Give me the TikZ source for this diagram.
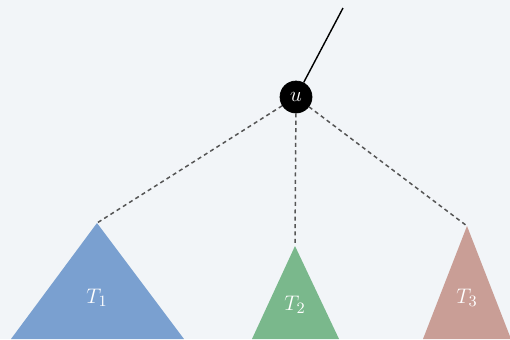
\documentclass[tikz,border=0pt]{standalone}
\usetikzlibrary{positioning}
\definecolor{bgcol}{RGB}{242,245,248}
\definecolor{tonecol}{RGB}{122,160,208}
\definecolor{ttwocol}{RGB}{122,184,140}
\definecolor{tthreecol}{RGB}{201,158,150}
\definecolor{dashcol}{RGB}{85,85,85}
\begin{document}
\begin{tikzpicture}[x=0.02cm, y=-0.02cm,
    vertex/.style={draw=black, fill=black, circle, minimum size=0.64cm, inner sep=0pt, text=white, font=\fontsize{12}{14}\selectfont},
    link/.style={dashcol, line width=0.85pt, dash pattern=on 2.3pt off 1.9pt},
    subtree/.style={text=white, font=\fontsize{13}{15}\selectfont}]

  % background
  \fill[bgcol] (0,0) rectangle (510,339);
  \useasboundingbox (0,0) rectangle (510,339);

  % the vertex u and its parent edge
  \node[vertex] (u) at (296,97) {$u$};
  \coordinate (parent) at (343,8);
  \draw[line width=0.8pt] (u) -- (parent);

  % apexes of the subtrees
  \coordinate (a1) at (97,223);
  \coordinate (a2) at (295,246);
  \coordinate (a3) at (467,226);

  % subtrees
  \fill[tonecol] (a1) -- (184,339) -- (11,339) -- cycle;
  \fill[ttwocol] (a2) -- (339,339) -- (252,339) -- cycle;
  \fill[tthreecol] (a3) -- (511,339) -- (423,339) -- cycle;

  \node[subtree] (t1) at (97,298) {$T_1$};
  \node[subtree] (t2) at (295,305) {$T_2$};
  \node[subtree] (t3) at (467,298) {$T_3$};

  % links from u to the subtrees
  \draw[link] (u) -- (a1);
  \draw[link] (u) -- (a2);
  \draw[link] (u) -- (a3);

\end{tikzpicture}
\end{document}
